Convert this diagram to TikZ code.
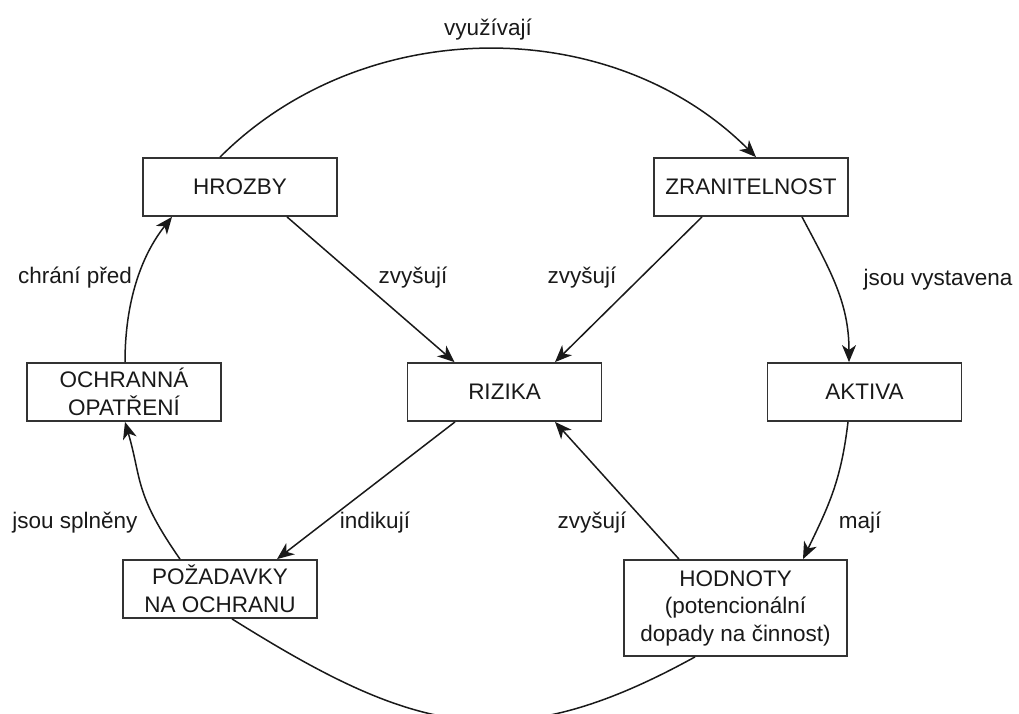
\documentclass[tikz,border=0pt]{standalone}
\usepackage{fontspec}
\setmainfont{Liberation Sans}
\usetikzlibrary{arrows.meta}
\begin{document}
\begin{tikzpicture}[x=1pt,y=-1pt,
  box/.style={draw=black!80, line width=1.8pt, fill=white, minimum width=194pt,
    minimum height=58pt, inner sep=0pt, align=center, text=black!90},
  lbl/.style={text=black!90, inner sep=0pt},
  conn/.style={line width=1.5pt, draw=black!90},
  arr/.style={conn, -{Stealth[length=17pt,width=14pt,inset=5pt]}},
  every node/.style={font=\fontsize{22.5}{27.5}\selectfont}]
\useasboundingbox (0,0) rectangle (1019,713);

% boxes
\node[box] (hroz) at (240,187) {HROZBY};
\node[box] (zran) at (751,187) {ZRANITELNOST};
\node[box] (ochr) at (124,392) {OCHRANNÁ\\OPATŘENÍ};
\node[box] (riz)  at (504.5,392) {RIZIKA};
\node[box] (akt)  at (864.5,392) {AKTIVA};
\node[box] (poz)  at (220,589) {POŽADAVKY\\NA OCHRANU};
\node[box, minimum width=223pt, minimum height=96pt] (hod) at (735.5,608)
  {HODNOTY\\(potencionální\\dopady na činnost)};

% connectors
\draw[arr] ([xshift=-20pt]hroz.north) .. controls +(144,-144) and +(-144,-144) .. ([xshift=5pt]zran.north);
\draw[arr] ([xshift=47pt]hroz.south) -- ([xshift=-50pt]riz.north);
\draw[arr] ([xshift=-49pt]zran.south) -- ([xshift=50.5pt]riz.north);
\draw[arr] ([xshift=51pt]zran.south) .. controls +(28,53) and +(0,-60) .. ([xshift=-15.5pt]akt.north);
\draw[arr] ([xshift=-16.5pt]akt.south) .. controls +(-7,59) and +(26,-54) .. ([xshift=67.5pt]hod.north);
\draw[arr] ([xshift=-56.5pt]hod.north) -- ([xshift=50.5pt]riz.south);
\draw[arr] ([xshift=-49.5pt]riz.south) -- ([xshift=57pt]poz.north);
\draw[arr] ([xshift=-40pt]poz.north) .. controls +(-46,-66) and +(17,58) .. ([xshift=1pt]ochr.south);
\draw[arr] ([xshift=1pt]ochr.north) .. controls +(0,-60) and +(-31,39) .. ([xshift=-68pt]hroz.south);
\draw[conn] ([xshift=12pt]poz.south) .. controls +(182,114) and +(-187,103) .. ([xshift=-40.5pt]hod.south);

% connector labels
\node[lbl] (l1) at (488,30) {využívají};
\node[lbl] (l2) at (413,278) {zvyšují};
\node[lbl] (l3) at (582,278) {zvyšují};
\node[lbl] (l4) at (938,280) {jsou vystavena};
\node[lbl] (l5) at (75,278) {chrání před};
\node[lbl] (l6) at (75,523) {jsou splněny};
\node[lbl] (l7) at (375,523) {indikují};
\node[lbl] (l8) at (592,523) {zvyšují};
\node[lbl] (l9) at (860,523) {mají};
\end{tikzpicture}
\end{document}
